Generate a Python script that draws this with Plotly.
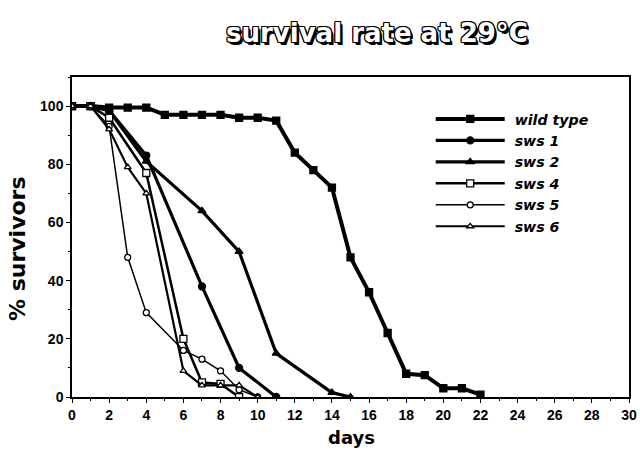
import plotly.graph_objects as go

# ---- data ----
wt_days = list(range(0, 23))
wt_vals = [100, 100, 99.5, 99.5, 99.5, 97, 97, 97, 97, 96, 96, 95, 84, 78, 72, 48, 36, 22, 8, 7.5, 3, 3, 0.8]

sws1_days = [0, 1, 2, 4, 7, 9, 11]
sws1_vals = [100, 100, 98.5, 83, 38, 10, 0]

sws2_days = [0, 1, 2, 4, 7, 9, 11, 14, 15]
sws2_vals = [100, 100, 98.5, 81, 64, 50, 15, 1.5, 0]

sws4_days = [0, 1, 2, 4, 6, 7, 8, 9]
sws4_vals = [100, 100, 96, 77, 20, 5, 4.5, 0]

sws5_days = [0, 1, 2, 3, 4, 6, 7, 8, 9, 10]
sws5_vals = [100, 100, 93, 48, 29, 16, 13, 9, 2.5, 0]

sws6_days = [0, 1, 2, 3, 4, 6, 7, 8, 9, 10]
sws6_vals = [100, 100, 92, 79, 70, 9, 4, 4, 4, 0]

x_ticks = list(range(0, 31, 2))
y_ticks = list(range(0, 101, 20))

FONT = "Liberation Sans"
WIDE = "DejaVu Sans"
NB = "\u00a0"

series = [
    ("wild type", wt_days, wt_vals, 4, "square", 7, "black"),
    ("sws 1", sws1_days, sws1_vals, 3.2, "circle", 7, "black"),
    ("sws 2", sws2_days, sws2_vals, 3.2, "triangle-up", 7, "black"),
    ("sws 4", sws4_days, sws4_vals, 2.5, "square", 7, "white"),
    ("sws 5", sws5_days, sws5_vals, 1.5, "circle", 6, "white"),
    ("sws 6", sws6_days, sws6_vals, 2.2, "triangle-up", 6, "white"),
]

fig = go.Figure()
for i, (name, xs, ys, lw, sym, ms, fill) in enumerate(series):
    fig.add_trace(go.Scatter(
        x=xs, y=ys, name=NB + name, mode="lines+markers",
        line=dict(color="black", width=lw),
        marker=dict(symbol=sym, size=ms, color=fill,
                    line=dict(color="black", width=1.3)),
    ))

outline = ("1px 0 0 #000, -1px 0 0 #000, 0 1px 0 #000, 0 -1px 0 #000, "
           "1px 1px 0 #000, -1px -1px 0 #000, 1px -1px 0 #000, -1px 1px 0 #000, "
           "2px 2px 0 #000, 2.5px 2.5px 0 #000")

fig.update_layout(
    width=640, height=461,
    margin=dict(l=72, r=11, t=77, b=64, autoexpand=False),
    paper_bgcolor="white", plot_bgcolor="white",
    font=dict(family=FONT, color="black"),
    title=dict(
        text="survival rate at 29°C",
        x=0.589, xanchor="center", xref="container",
        y=0.928, yanchor="middle", yref="container",
        font=dict(family=WIDE, size=26, weight="bold", color="white",
                  shadow=outline),
    ),
    showlegend=True,
    legend=dict(
        x=0.644, y=0.918, xanchor="left", yanchor="top",
        bgcolor="rgba(0,0,0,0)",
        font=dict(family=WIDE, size=14.2, weight="bold", style="italic", color="black"),
        itemwidth=69,
        tracegroupgap=0,
    ),
    xaxis=dict(
        range=[0, 30], tickvals=x_ticks, automargin=False,
        showgrid=False, zeroline=False,
        showline=True, linecolor="black", linewidth=1.5, mirror=True,
        ticks="outside", ticklen=4, tickwidth=1.2, tickcolor="black",
        minor=dict(dtick=1, ticks="outside", ticklen=2, tickcolor="black", showgrid=False),
        tickfont=dict(family=FONT, size=14, weight="bold"),
    ),
    yaxis=dict(
        range=[0, 110], tickvals=y_ticks, automargin=False,
        showgrid=False, zeroline=False,
        showline=True, linecolor="black", linewidth=1.5, mirror=True,
        ticks="outside", ticklen=4, tickwidth=1.2, tickcolor="black",
        minor=dict(dtick=10, ticks="outside", ticklen=2, tickcolor="black", showgrid=False),
        tickfont=dict(family=FONT, size=14, weight="bold"),
    ),
    annotations=[
        dict(text="days", xref="paper", yref="paper", x=0.502, y=-0.128,
             xanchor="center", yanchor="middle", showarrow=False,
             font=dict(family=WIDE, size=18, weight="bold")),
        dict(text="% survivors", xref="paper", yref="paper", x=-0.099, y=0.465,
             xanchor="center", yanchor="middle", showarrow=False, textangle=-90,
             font=dict(family=WIDE, size=22, weight="bold")),
    ],
)

fig.write_html("out.html", config={"displayModeBar": False},
               post_script="document.body.style.margin='0';")
